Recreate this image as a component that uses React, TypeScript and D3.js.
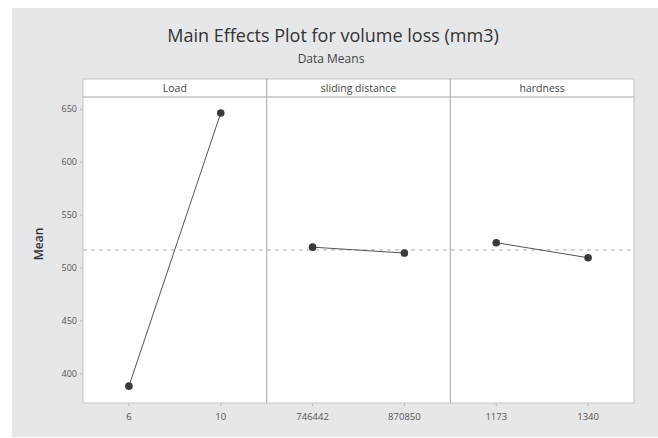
import React from "react";
import * as d3 from "d3";

// main effects data
const factors = ["Load", "sliding distance", "hardness"];
const levels = [
  ["6", "10"],
  ["746442", "870850"],
  ["1173", "1340"],
];
const means = [
  [388.5, 646.5],
  [519.8, 514.2],
  [524.0, 509.8],
];
const yTicks = [400, 450, 500, 550, 600, 650];

const W = 658;
const H = 438;
const MARGIN = { top: 97, right: 24, bottom: 35, left: 83 };
const STRIP = 18;

const FONT = "'Open Sans', 'Noto Sans', sans-serif";

export default function App() {
  const plotW = W - MARGIN.left - MARGIN.right;
  const plotH = H - MARGIN.top - MARGIN.bottom;

  const panel = d3
    .scaleBand()
    .domain(factors)
    .range([0, plotW])
    .padding(0);

  const y = d3.scaleLinear().domain([372.6, 661.6]).range([plotH, 0]);

  const grandMean = d3.mean(means.flat()) as number;

  const line = d3
    .line<[number, number]>()
    .x((d) => d[0])
    .y((d) => d[1]);

  return (
    <svg
      width={W}
      height={H}
      style={{ position: "absolute", left: 0, top: 0, background: "#fff" }}
      fontFamily={FONT}
    >
      <rect x={12} y={8} width={W - 12} height={H - 8 - 1} fill="#e6e7e9" />

      <text x={333} y={42} textAnchor="middle" fontSize={18} fill="#333">
        Main Effects Plot for volume loss (mm3)
      </text>
      <text x={331} y={63} textAnchor="middle" fontSize={12} fill="#444">
        Data Means
      </text>

      <g transform={`translate(${MARGIN.left},${MARGIN.top})`}>
        <rect x={0} y={0} width={plotW} height={plotH} fill="#fff" />
        <rect x={0} y={-STRIP} width={plotW} height={STRIP} fill="#fff" stroke="#c4c4c4" />

        {/* y axis */}
        {yTicks.map((t) => (
          <g key={t} transform={`translate(0,${y(t)})`}>
            <line x1={-3} x2={0} stroke="#bbb" />
            <text x={-6} dy="0.32em" textAnchor="end" fontSize={9} fill="#555">
              {t}
            </text>
          </g>
        ))}
        <text
          transform={`translate(${-40},${plotH / 2 - 6}) rotate(-90)`}
          textAnchor="middle"
          fontSize={12}
          fontWeight={600}
          fill="#333"
        >
          Mean
        </text>

        {/* grand mean reference */}
        <line
          x1={0}
          x2={plotW}
          y1={y(grandMean)}
          y2={y(grandMean)}
          stroke="#bdbdbd"
          strokeWidth={1.2}
          strokeDasharray="4,4"
        />

        {factors.map((f, i) => {
          const x0 = panel(f) as number;
          const x = d3
            .scalePoint()
            .domain(levels[i])
            .range([x0, x0 + panel.bandwidth()])
            .padding(0.5);
          const pts: [number, number][] = levels[i].map((l, j) => [
            x(l) as number,
            y(means[i][j]),
          ]);
          return (
            <g key={f}>
              <text
                x={x0 + panel.bandwidth() / 2}
                y={-STRIP / 2}
                dy="0.35em"
                textAnchor="middle"
                fontSize={10.5}
                fill="#444"
              >
                {f}
              </text>
              {i > 0 && (
                <line x1={x0} x2={x0} y1={-STRIP} y2={plotH} stroke="#b5b5b5" strokeWidth={1.2} />
              )}
              {levels[i].map((l) => (
                <g key={l} transform={`translate(${x(l)},${plotH})`}>
                  <line y1={0} y2={3} stroke="#bbb" />
                  <text y={14} dy="0.32em" textAnchor="middle" fontSize={9.5} fill="#555">
                    {l}
                  </text>
                </g>
              ))}
              <path d={line(pts) as string} fill="none" stroke="#555" strokeWidth={1} />
              {pts.map((p, j) => (
                <circle key={j} cx={p[0]} cy={p[1]} r={3.8} fill="#3a3a3a" />
              ))}
            </g>
          );
        })}

        <rect x={0} y={0} width={plotW} height={plotH} fill="none" stroke="#c4c4c4" />
      </g>
    </svg>
  );
}
